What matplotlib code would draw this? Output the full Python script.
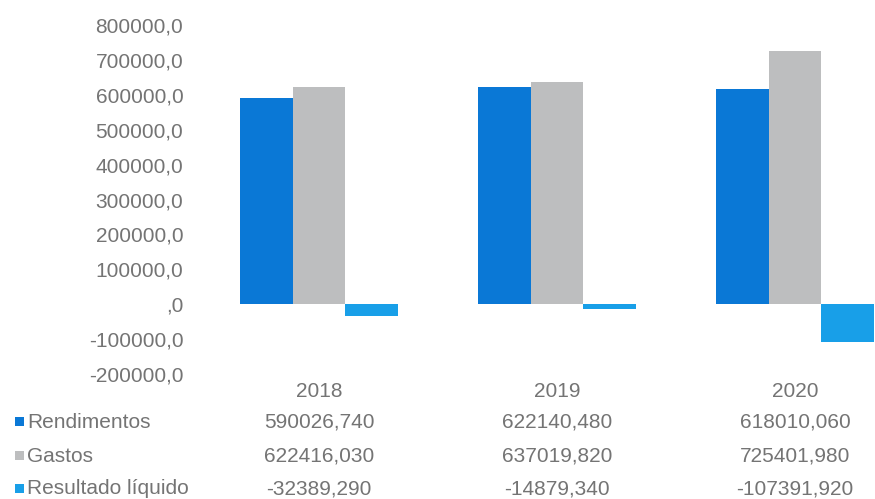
import matplotlib
matplotlib.use("Agg")
import matplotlib.pyplot as plt
from matplotlib.ticker import FuncFormatter, FixedLocator
from matplotlib.patches import Rectangle
import matplotlib.transforms as mtransforms
import numpy as np

years = ["2018", "2019", "2020"]
series_names = ["Rendimentos", "Gastos", "Resultado líquido"]
rendimentos = [590026.740, 622140.480, 618010.060]
gastos = [622416.030, 637019.820, 725401.980]
resultado = [-32389.290, -14879.340, -107391.920]
y_ticks = [-200000, -100000, 0, 100000, 200000, 300000, 400000, 500000, 600000, 700000, 800000]

colors = ["#0A78D6", "#BDBEBF", "#189FE8"]
text_color = "#747474"
plt.rcParams['font.family'] = ['Liberation Sans', 'DejaVu Sans']

W, H = 875, 499
fig = plt.figure(figsize=(W / 100, H / 100), dpi=100)
ax_left, ax_right = 200, 914
ax_top, ax_bottom = 25, 374
ax = fig.add_axes([ax_left / W, 1 - ax_bottom / H, (ax_right - ax_left) / W, (ax_bottom - ax_top) / H])

series = [rendimentos, gastos, resultado]
x = np.arange(len(years))
bw = 0.22
for i, (vals, c) in enumerate(zip(series, colors)):
    ax.bar(x + (i - 1) * bw, vals, width=bw, color=c, linewidth=0, clip_on=False)

ax.set_xlim(-0.5, len(years) - 0.5)
ax.set_ylim(-200000, 800000)
ax.yaxis.set_major_locator(FixedLocator(y_ticks))

def fmt(v, pos=None):
    if v == 0:
        return ",0"
    return f"{v:.1f}".replace(".", ",")

ax.yaxis.set_major_formatter(FuncFormatter(fmt))
ax.tick_params(axis='y', length=0, pad=12, labelsize=15, labelcolor=text_color)
ax.set_xticks(x)
ax.set_xticklabels(years)
ax.tick_params(axis='x', length=0, pad=6, labelsize=15, labelcolor=text_color)
for s in ax.spines.values():
    s.set_visible(False)

# data table rows
trans = mtransforms.blended_transform_factory(ax.transData, fig.transFigure)
row_y = [422, 456, 489]
for vals, ry in zip(series, row_y):
    for xi, v in zip(x, vals):
        ax.text(xi, 1 - ry / H, f"{v:.3f}".replace(".", ","), transform=trans,
                ha='center', va='center', fontsize=15, color=text_color, clip_on=False)

for name, c, ry in zip(series_names, colors, row_y):
    fig.patches.append(Rectangle((15 / W, 1 - (ry + 4) / H), 9 / W, 9 / H,
                                 transform=fig.transFigure, color=c, linewidth=0))
    fig.text(27 / W, 1 - ry / H, name, ha='left', va='center', fontsize=15, color=text_color)

fig.savefig("out.png", dpi=100)
